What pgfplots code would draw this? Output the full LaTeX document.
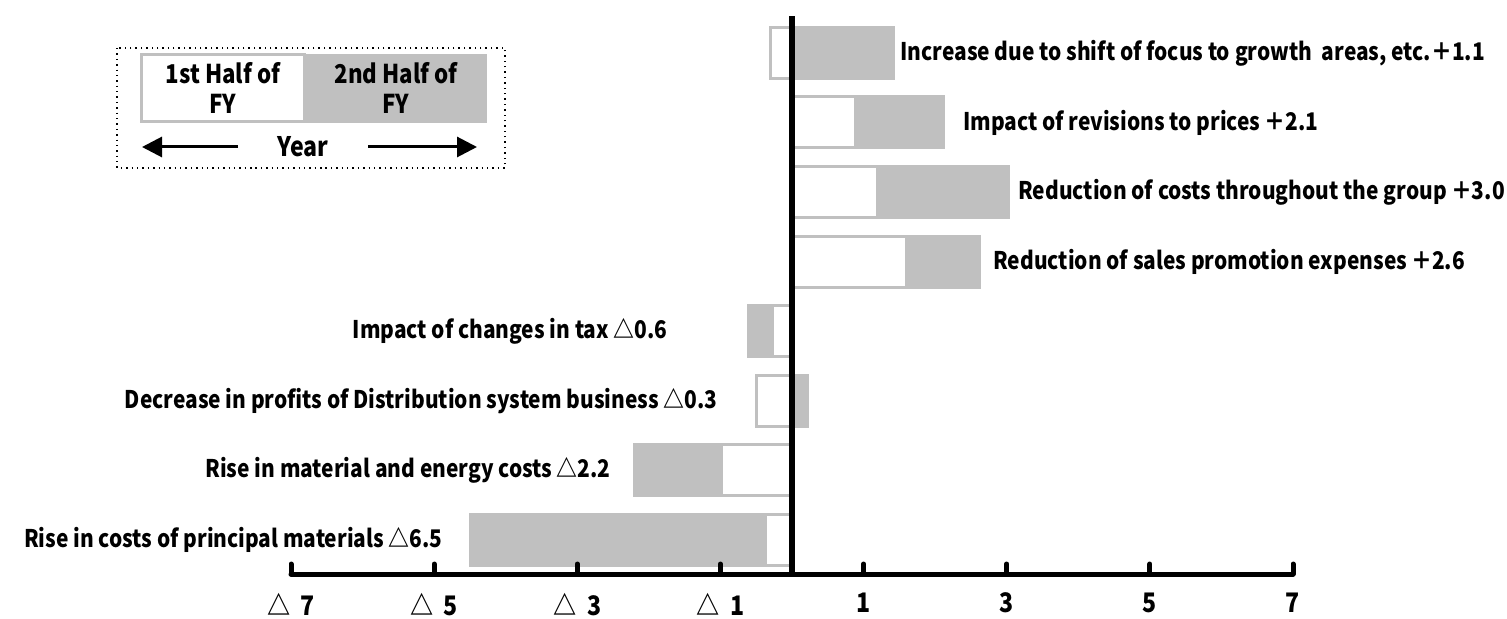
\documentclass[border=0pt]{standalone}
\usepackage{fontspec}
\setmainfont{Noto Sans CJK JP}[FakeStretch=0.86]
\usepackage{pgfplots}
\usepackage{pgfplotstable}
\pgfplotsset{compat=1.18}
\usetikzlibrary{arrows.meta}
\definecolor{bargray}{HTML}{C0C0C0}

% k: row from bottom; first: 1st half (white) end; second: outer end of the grey (2nd half) bar
\pgfplotstableread{
k first second
7 -0.30 1.42
6 0.89 2.12
5 1.19 3.02
4 1.60 2.62
3 -0.27 -0.61
2 -0.50 0.22
1 -0.99 -2.20
0 -0.37 -4.49
}\bars

\begin{document}
\begin{tikzpicture}[x=0.5bp,y=-0.5bp,font=\bfseries\fontsize{12.2}{15}\selectfont]
\path[use as bounding box] (0,0) rectangle (1507,619);
\begin{axis}[
  at={(145.5bp,-287bp)}, anchor=south west,
  scale only axis, width=501bp, height=279bp,
  xmin=-7, xmax=7, ymin=-0.496, ymax=7.532,
  axis x line=bottom, axis y line=middle,
  axis line style={-},
  x axis line style={line width=2.5bp, line cap=round},
  y axis line style={line width=2.8bp},
  axis on top,
  xtick={-7,-5,-3,-1,1,3,5,7},
  xticklabels={△\ \ 7,△\ \ 5,△\ \ 3,△\ \ 1,1,3,5,7},
  ytick=\empty,
  tick align=inside,
  major tick length=5bp,
  x tick style={line width=2.5bp, line cap=round, black},
  xticklabel style={font=\bfseries\fontsize{13.5}{13.5}\selectfont, yshift=-6bp},
  clip=false,
]
\addplot[xbar, bar shift=0pt, bar width=25.5bp, fill=bargray, draw=bargray, line width=1.5bp] table[x=second,y=k]{\bars};
\addplot[xbar, bar shift=0pt, bar width=25.5bp, fill=white, draw=bargray, line width=1.5bp] table[x=first,y=k]{\bars};
\end{axis}
% value labels
\begin{scope}[every node/.style={inner sep=0pt}]
\node[anchor=west] at (900,53) {Increase due to shift of focus to growth~ areas, etc.＋1.1};
\node[anchor=west] at (963,123) {Impact of revisions to prices\,＋2.1};
\node[anchor=west] at (1018,192) {Reduction of costs throughout the group\,＋3.0};
\node[anchor=west] at (993,262) {Reduction of sales promotion expenses\,＋2.6};
\node[anchor=east] at (668,331) {Impact of changes in tax △0.6};
\node[anchor=east] at (718,401) {Decrease in profits of Distribution system business △0.3};
\node[anchor=east] at (611,470) {Rise in material and energy costs △2.2};
\node[anchor=east] at (443,540) {Rise in costs of principal materials △6.5};
\end{scope}
% legend
\draw[black, line width=0.7bp, dotted] (117,48) rectangle (505,168);
\fill[bargray] (304,54) rectangle (487,123);
\draw[bargray, line width=1.5bp, fill=white] (141,55) rectangle (304,122);
\node[align=center, font=\bfseries\fontsize{13}{15}\selectfont] at (223,88) {1st Half of\\FY};
\node[align=center, font=\bfseries\fontsize{13}{15}\selectfont] at (396,88) {2nd Half of\\FY};
\draw[line width=1.5bp, -{Triangle[length=10bp,width=10bp]}] (238,147) -- (142,147);
\draw[line width=1.5bp, -{Triangle[length=10bp,width=10bp]}] (368,147) -- (477,147);
\node[font=\bfseries\fontsize{13.5}{15}\selectfont] at (303,147) {Year};
\end{tikzpicture}
\end{document}
